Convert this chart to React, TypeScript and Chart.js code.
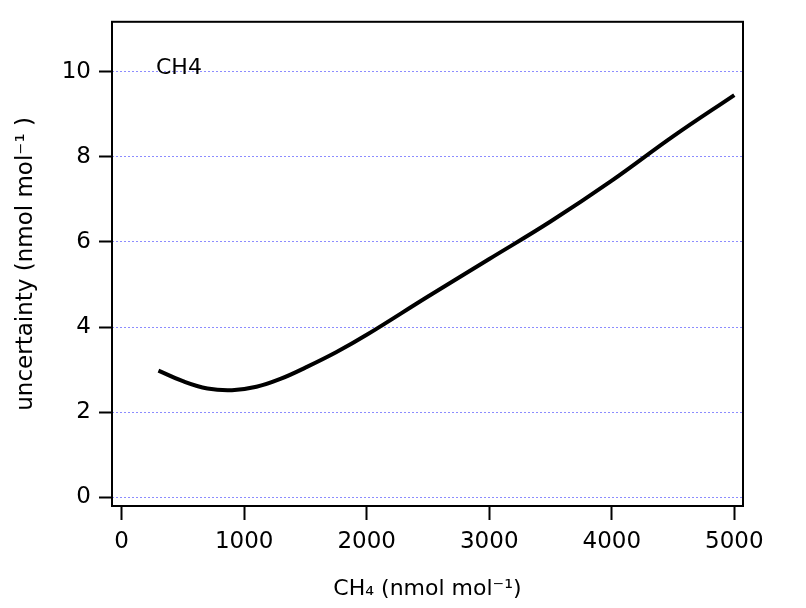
import { useEffect, useRef } from "react";
import { Chart, registerables } from "chart.js";

Chart.register(...registerables);

// CH4 mole fraction (nmol/mol) and the uncertainty
const concentration = [300, 500, 700, 900, 1100, 1300, 1500, 1750, 2000, 2500, 3000, 3500, 4000, 4500, 5000];
const uncertainty = [2.98, 2.73, 2.56, 2.52, 2.6, 2.79, 3.05, 3.41, 3.82, 4.72, 5.6, 6.48, 7.44, 8.48, 9.45];

const xTicks = [0, 1000, 2000, 3000, 4000, 5000];
const yTicks = [0, 2, 4, 6, 8, 10];

const xTitle = "CH\u2084 (nmol mol\u207B\u00B9)";
const yTitle = "uncertainty (nmol mol\u207B\u00B9 )";
const panelLabel = "CH4";

const FONT = "'DejaVu Sans', sans-serif";

const frame = {
  id: "frame",
  afterDraw(chart: any) {
    const { ctx, chartArea } = chart;
    ctx.save();
    ctx.strokeStyle = "#000";
    ctx.lineWidth = 2;
    ctx.strokeRect(chartArea.left, chartArea.top, chartArea.right - chartArea.left, chartArea.bottom - chartArea.top);
    ctx.fillStyle = "#000";
    ctx.font = `22px ${FONT}`;
    ctx.textBaseline = "middle";
    ctx.textAlign = "left";
    ctx.fillText(panelLabel, chartArea.left + 44, chartArea.top + 46);
    ctx.restore();
  },
};

const App = () => {
  const canvasRef = useRef<HTMLCanvasElement>(null);

  useEffect(() => {
    document.body.style.margin = "0";
    const config: any = {
      type: "line",
      data: {
        datasets: [
          {
            label: panelLabel,
            data: concentration.map((x, i) => ({ x, y: uncertainty[i] })),
            borderColor: "#000",
            borderWidth: 4,
            pointRadius: 0,
            fill: false,
            tension: 0.4,
            borderCapStyle: "butt",
          },
        ],
      },
      options: {
        animation: false,
        responsive: false,
        layout: { padding: { top: 20, right: 63, left: 0, bottom: 0 } },
        plugins: { legend: { display: false }, tooltip: { enabled: false } },
        scales: {
          x: {
            type: "linear",
            min: -79,
            max: 5071,
            afterBuildTicks: (s: any) => {
              s.ticks = xTicks.map((v) => ({ value: v }));
            },
            afterFit: (s: any) => {
              s.height = 102;
            },
            border: { display: false },
            grid: {
              drawOnChartArea: false,
              drawTicks: true,
              tickLength: 14,
              tickColor: "#000",
              tickWidth: 2,
            },
            ticks: {
              color: "#000",
              font: { family: FONT, size: 23 },
              padding: 8,
              maxRotation: 0,
              callback: (v: any) => String(v),
            },
            title: {
              display: true,
              text: xTitle,
              color: "#000",
              font: { family: FONT, size: 22 },
              padding: { top: 0, bottom: 6 },
            },
          },
          y: {
            type: "linear",
            min: -0.2,
            max: 11.17,
            afterBuildTicks: (s: any) => {
              s.ticks = yTicks.map((v) => ({ value: v }));
            },
            afterFit: (s: any) => {
              s.width = 112;
            },
            border: { display: false, dash: [2, 2] },
            grid: {
              color: "#8c8cff",
              lineWidth: 1,
              drawTicks: true,
              tickLength: 13,
              tickColor: "#000",
              tickWidth: 2,
            },
            ticks: {
              color: "#000",
              font: { family: FONT, size: 23 },
              padding: 8,
              callback: (v: any) => String(v),
            },
            title: {
              display: true,
              text: yTitle,
              color: "#000",
              font: { family: FONT, size: 23 },
              padding: { top: 12, bottom: 0 },
            },
          },
        },
      },
      plugins: [frame],
    };
    const chart = new Chart(canvasRef.current as HTMLCanvasElement, config);
    return () => {
      chart.destroy();
    };
  }, []);

  return (
    <div style={{ width: 806, height: 608, background: "#fff" }}>
      <canvas ref={canvasRef} width={806} height={608} />
    </div>
  );
};

export default App;
